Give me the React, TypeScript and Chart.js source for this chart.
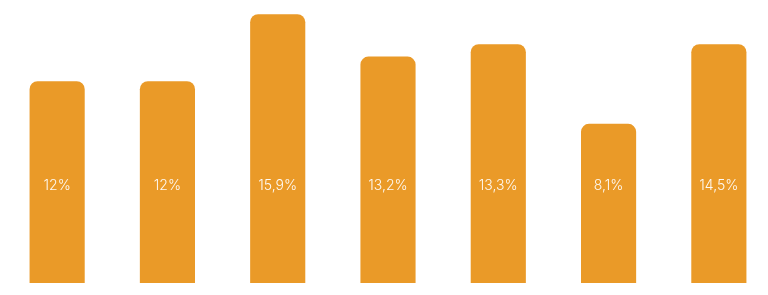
import React, { useEffect, useRef } from "react";
import { Chart, registerables } from "chart.js";

Chart.register(...registerables);

const categories = ["A", "B", "C", "D", "E", "F", "G"];
// bar heights as drawn in the picture (arbitrary units)
const barHeights = [12.12, 12.12, 16.15, 13.6, 14.34, 9.56, 14.34];
// the percentage printed inside each bar
const shares = [12, 12, 15.9, 13.2, 13.3, 8.1, 14.5];

const BAR_COLOR = "#EA9A28";

const fmt = (v: number) => String(v).replace(".", ",") + "%";

const labelPlugin = {
  id: "innerLabels",
  afterDatasetsDraw(chart: any) {
    const { ctx, chartArea } = chart;
    const meta = chart.getDatasetMeta(0);
    ctx.save();
    ctx.font = "300 14px Inter, 'Open Sans', sans-serif";
    ctx.fillStyle = "rgba(255,255,255,0.95)";
    ctx.textAlign = "center";
    ctx.textBaseline = "middle";
    const y = chartArea.bottom - 97;
    meta.data.forEach((bar: any, i: number) => {
      ctx.fillText(fmt(shares[i]), bar.x, y);
    });
    ctx.restore();
  },
};

export default function App() {
  const ref = useRef<HTMLCanvasElement | null>(null);
  useEffect(() => {
    if (!ref.current) return;
    const chart = new Chart(ref.current, {
      type: "bar",
      data: {
        labels: categories,
        datasets: [
          {
            data: barHeights,
            backgroundColor: BAR_COLOR,
            borderRadius: 8,
            borderSkipped: "start",
            barPercentage: 0.5,
            categoryPercentage: 1,
          },
        ],
      },
      options: {
        animation: false,
        responsive: false,
        maintainAspectRatio: false,
        layout: { padding: { top: 0, bottom: 12, left: 0, right: 0 } },
        plugins: { legend: { display: false }, tooltip: { enabled: false } },
        scales: {
          x: { display: false },
          y: { display: false, min: 0, max: 17 },
        },
      },
      plugins: [labelPlugin],
    });
    return () => chart.destroy();
  }, []);
  return (
    <div
      style={{
        position: "fixed",
        left: 0,
        top: 0,
        width: 768,
        height: 295,
        overflow: "hidden",
        background: "#fff",
      }}
    >
      <canvas
        ref={ref}
        width={772}
        height={295}
        style={{ position: "absolute", left: 2, top: 0, width: 772, height: 295 }}
      />
    </div>
  );
}
